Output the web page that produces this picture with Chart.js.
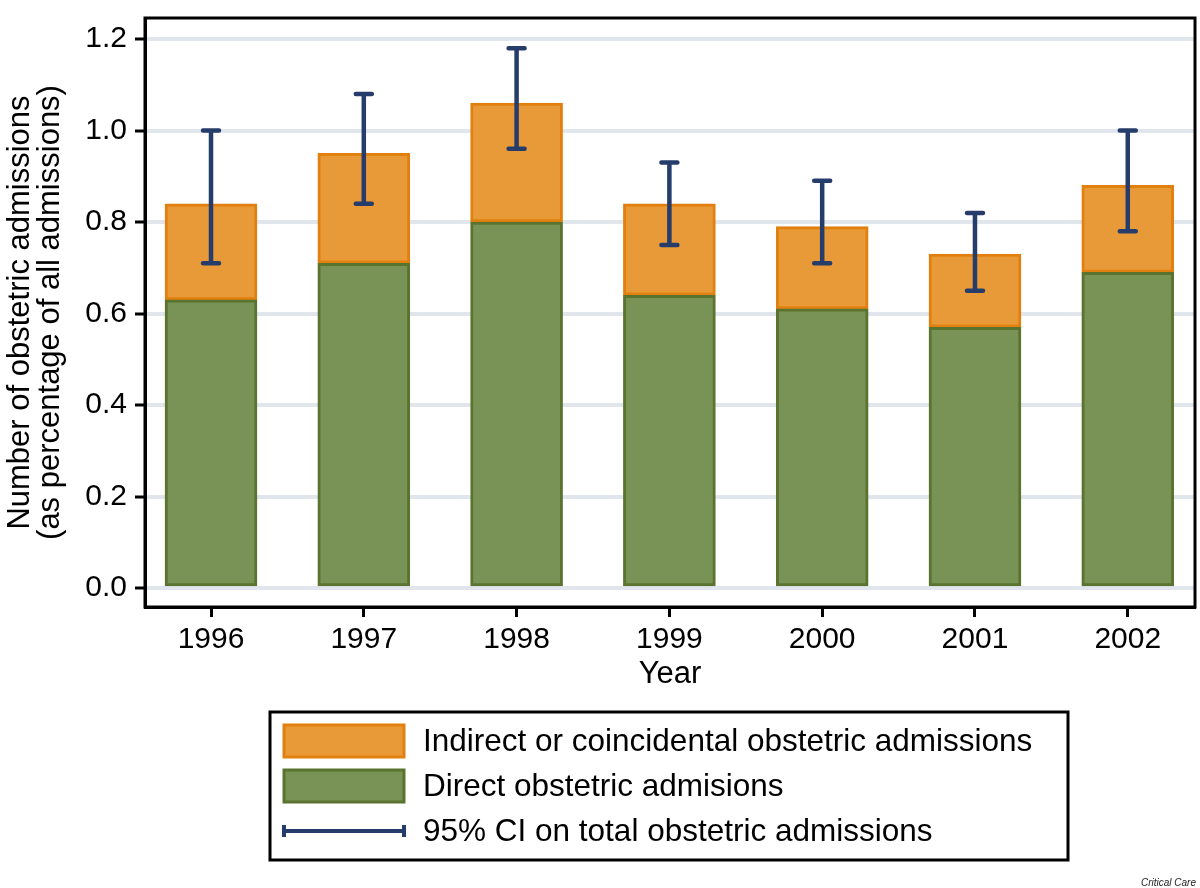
<!DOCTYPE html>
<html><head><meta charset="utf-8">
<script src="https://cdn.jsdelivr.net/npm/chart.js@4/dist/chart.umd.min.js"></script>
<style>html,body{margin:0;padding:0;background:#fff}#wrap{width:1200px;height:888px;position:relative}</style>
</head><body><div id="wrap"><canvas id="c" width="1200" height="888"></canvas></div>
<script>
const years = [1996, 1997, 1998, 1999, 2000, 2001, 2002];
const directValues = [0.63, 0.71, 0.80, 0.64, 0.61, 0.57, 0.69];
const totalValues = [0.84, 0.95, 1.06, 0.84, 0.79, 0.73, 0.88];
const ciLow = [0.71, 0.84, 0.96, 0.75, 0.71, 0.65, 0.78];
const ciHigh = [1.00, 1.08, 1.18, 0.93, 0.89, 0.82, 1.00];
const yTicks = [0, 0.2, 0.4, 0.6, 0.8, 1.0, 1.2];
const labelIndirect = 'Indirect or coincidental obstetric admissions';
const labelDirect = 'Direct obstetric admisions';
const labelCI = '95% CI on total obstetric admissions';

const FONT = '"Liberation Sans", Arial, Helvetica, sans-serif';
const NAVY = '#263d6b';

const errorBars = {
  id: 'errorBars',
  afterDatasetsDraw(chart) {
    const {ctx, scales: {x, y}} = chart;
    ctx.save();
    ctx.strokeStyle = NAVY;
    ctx.lineWidth = 4.5;
    ctx.lineCap = 'round';
    years.forEach((yr, i) => {
      const px = x.getPixelForValue(yr);
      const lo = y.getPixelForValue(ciLow[i]);
      const hi = y.getPixelForValue(ciHigh[i]);
      ctx.beginPath();
      ctx.moveTo(px, lo); ctx.lineTo(px, hi);
      ctx.moveTo(px - 8, lo); ctx.lineTo(px + 8, lo);
      ctx.moveTo(px - 8, hi); ctx.lineTo(px + 8, hi);
      ctx.stroke();
    });
    ctx.restore();
  }
};

const frameAndLegend = {
  id: 'frameAndLegend',
  afterDraw(chart) {
    const {ctx, chartArea: a} = chart;
    ctx.save();
    ctx.strokeStyle = '#000';
    ctx.lineWidth = 3;
    ctx.strokeRect(a.left, a.top, a.right - a.left, a.bottom - a.top);
    // legend
    ctx.lineWidth = 3;
    ctx.strokeRect(270, 712, 798, 148);
    const ds = chart.data.datasets;
    const items = [
      {label: ds[1].label, fill: ds[1].backgroundColor, stroke: ds[1].borderColor, cy: 741},
      {label: ds[0].label, fill: ds[0].backgroundColor, stroke: ds[0].borderColor, cy: 786},
      {label: labelCI, line: true, cy: 831}
    ];
    ctx.font = '31.5px ' + FONT;
    ctx.textBaseline = 'middle';
    ctx.fillStyle = '#000';
    items.forEach(it => {
      if (it.line) {
        ctx.strokeStyle = NAVY;
        ctx.lineWidth = 4;
        ctx.beginPath();
        ctx.moveTo(284, it.cy); ctx.lineTo(404, it.cy);
        ctx.moveTo(284, it.cy - 6); ctx.lineTo(284, it.cy + 6);
        ctx.moveTo(404, it.cy - 6); ctx.lineTo(404, it.cy + 6);
        ctx.stroke();
      } else {
        ctx.fillStyle = it.fill;
        ctx.fillRect(284, it.cy - 16, 120, 32);
        ctx.strokeStyle = it.stroke;
        ctx.lineWidth = 3;
        ctx.strokeRect(284, it.cy - 16, 120, 32);
      }
      ctx.fillStyle = '#000';
      ctx.fillText(it.label, 423, it.cy + 1);
    });
    // credit
    ctx.font = 'italic 10px ' + FONT;
    ctx.textAlign = 'right';
    ctx.fillStyle = '#222';
    ctx.fillText('Critical Care', 1196, 883);
    ctx.restore();
  }
};

new Chart(document.getElementById('c'), {
  type: 'bar',
  data: {
    datasets: [
      {
        label: labelDirect,
        data: years.map((yr, i) => ({x: yr, y: directValues[i]})),
        backgroundColor: '#789355',
        borderColor: '#5a742f',
        borderWidth: 3,
        borderSkipped: false,
        barThickness: 92,
        grouped: false,
        order: 1
      },
      {
        label: labelIndirect,
        data: years.map((yr, i) => ({x: yr, y: [directValues[i], totalValues[i]]})),
        backgroundColor: '#e99a38',
        borderColor: '#e2800f',
        borderWidth: 3,
        borderSkipped: false,
        barThickness: 92,
        grouped: false,
        order: 2
      }
    ]
  },
  options: {
    responsive: false,
    animation: false,
    devicePixelRatio: 1,
    layout: {padding: {left: 6, top: 18, right: 5, bottom: 195}},
    plugins: {legend: {display: false}, tooltip: {enabled: false}},
    scales: {
      x: {
        type: 'linear',
        offset: false,
        min: 1995.568,
        max: 2002.44,
        afterBuildTicks: s => { s.ticks = years.map(v => ({value: v})); },
        afterFit: s => { s.height = 86; s.paddingLeft = 0; s.paddingRight = 0; },
        grid: {offset: false, drawOnChartArea: false, drawTicks: true, tickLength: 10, tickColor: '#000', tickWidth: 3},
        border: {display: true, color: '#000', width: 3},
        ticks: {color: '#000', font: {family: FONT, size: 30}, padding: 5, callback: v => String(v), maxRotation: 0, autoSkip: false},
        title: {display: true, text: 'Year', color: '#000', font: {family: FONT, size: 31}, padding: {top: 0, bottom: 0}}
      },
      y: {
        min: -0.0415,
        max: 1.246,
        afterBuildTicks: s => { s.ticks = yTicks.map(v => ({value: v})); },
        afterFit: s => { s.width = 139; s.paddingTop = 0; s.paddingBottom = 0; },
        grid: {color: '#e1e5ec', lineWidth: 4, drawTicks: true, tickLength: 10, tickColor: '#000', tickWidth: 3},
        border: {display: true, color: '#000', width: 3},
        ticks: {color: '#000', font: {family: FONT, size: 30}, padding: 8, callback: v => v.toFixed(1)},
        title: {display: true, text: ['Number of obstetric admissions', '(as percentage of all admissions)'], color: '#000', font: {family: FONT, size: 31, lineHeight: 0.95}, padding: {top: 0, bottom: 0}}
      }
    }
  },
  plugins: [errorBars, frameAndLegend]
});
</script></body></html>
